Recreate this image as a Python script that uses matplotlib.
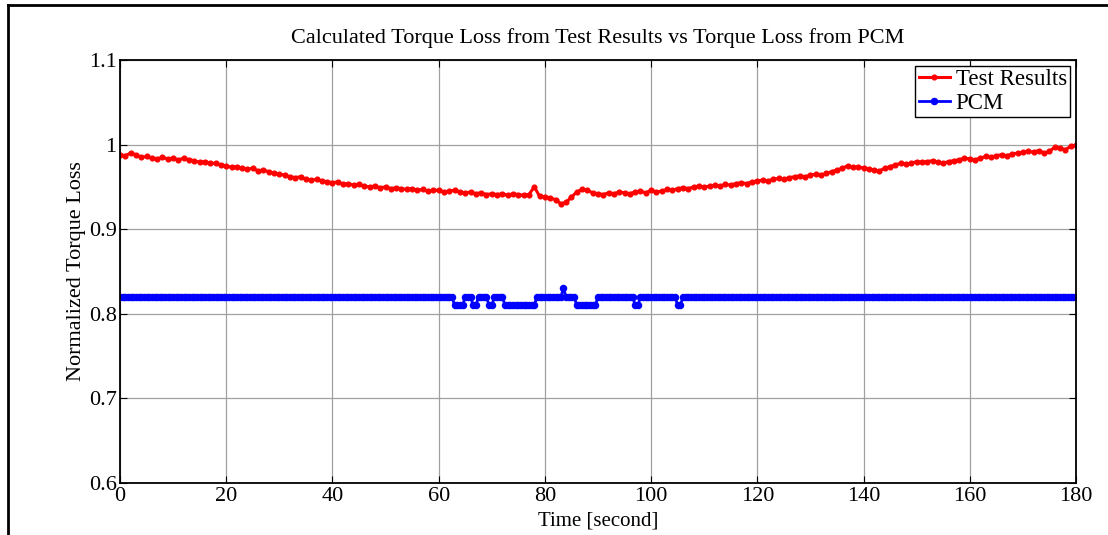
#!/usr/bin/env python3

import numpy as np
import matplotlib
matplotlib.use('Agg')
import matplotlib.pyplot as plt
from matplotlib.lines import Line2D

plt.rcParams['font.family'] = ['Liberation Serif', 'DejaVu Serif']
plt.rcParams['mathtext.fontset'] = 'stix'

# --- data ---
# test results, one value per second (0..180 s)
t_test = np.arange(0, 181, 1)
test_results = [
    0.988, 0.987, 0.990, 0.988, 0.985, 0.986, 0.984, 0.983, 0.985, 0.983,
    0.984, 0.982, 0.984, 0.982, 0.981, 0.979, 0.980, 0.978, 0.978, 0.976,
    0.975, 0.973, 0.974, 0.972, 0.971, 0.972, 0.969, 0.970, 0.968, 0.966,
    0.965, 0.964, 0.962, 0.961, 0.962, 0.959, 0.958, 0.959, 0.957, 0.956,
    0.955, 0.956, 0.953, 0.954, 0.952, 0.953, 0.951, 0.950, 0.951, 0.949,
    0.950, 0.948, 0.949, 0.948, 0.947, 0.948, 0.946, 0.947, 0.945, 0.946,
    0.946, 0.944, 0.945, 0.946, 0.944, 0.943, 0.944, 0.942, 0.943, 0.941,
    0.942, 0.941, 0.942, 0.940, 0.942, 0.941, 0.940, 0.941, 0.950, 0.939,
    0.938, 0.937, 0.935, 0.930, 0.932, 0.938, 0.944, 0.947, 0.946, 0.943,
    0.942, 0.941, 0.943, 0.942, 0.944, 0.943, 0.942, 0.944, 0.945, 0.943,
    0.946, 0.944, 0.945, 0.947, 0.946, 0.948, 0.949, 0.948, 0.950, 0.951,
    0.950, 0.951, 0.952, 0.951, 0.953, 0.952, 0.954, 0.955, 0.954, 0.956,
    0.957, 0.958, 0.957, 0.959, 0.960, 0.959, 0.961, 0.962, 0.963, 0.962,
    0.964, 0.965, 0.964, 0.966, 0.968, 0.970, 0.972, 0.975, 0.973, 0.974,
    0.972, 0.971, 0.970, 0.969, 0.972, 0.974, 0.976, 0.978, 0.977, 0.978,
    0.980, 0.979, 0.980, 0.981, 0.979, 0.978, 0.980, 0.981, 0.982, 0.984,
    0.983, 0.982, 0.984, 0.986, 0.985, 0.987, 0.988, 0.987, 0.989, 0.990,
    0.991, 0.992, 0.991, 0.993, 0.990, 0.992, 0.997, 0.996, 0.994, 0.998,
    0.999,
]

# PCM is a step signal: level holds from each change time to the next one
t_pcm = np.arange(0, 180.5, 0.5)
pcm_change_t = [0, 63, 65, 66.5, 67.5, 69.5, 70.5, 72.5, 78.5, 83.5, 84,
                86, 90, 97, 98, 105, 106]
pcm_level = [0.82, 0.81, 0.82, 0.81, 0.82, 0.81, 0.82, 0.81, 0.82, 0.83, 0.82,
             0.81, 0.82, 0.81, 0.82, 0.81, 0.82]
pcm = np.array(pcm_level)[np.searchsorted(pcm_change_t, t_pcm, side='right') - 1]

xticks = [0, 20, 40, 60, 80, 100, 120, 140, 160, 180]
yticks = [0.6, 0.7, 0.8, 0.9, 1.0, 1.1]
ytick_labels = ['0.6', '0.7', '0.8', '0.9', '1', '1.1']

# --- figure ---
fig = plt.figure(figsize=(11.08, 5.35), dpi=100)
ax = fig.add_axes([120/1108, 1 - 483/535, (1076 - 120)/1108, (483 - 60)/535])

ax.plot(t_test, test_results, color='red', marker='o', markersize=3.4,
        linewidth=2.2, label='Test Results')
ax.plot(t_pcm, pcm, color='blue', marker='o', markersize=4.4,
        linewidth=2, label='PCM')

ax.set_xlim(0, 180)
ax.set_ylim(0.6, 1.1)
ax.set_xticks(xticks)
ax.set_yticks(yticks)
ax.set_yticklabels(ytick_labels)
ax.tick_params(direction='in', length=5, width=0.8, top=True, right=True,
               labelsize=16)
ax.tick_params(axis='x', pad=3)
ax.tick_params(axis='y', pad=2.5)
ax.grid(True, color='#a0a0a0', linewidth=0.9)
ax.set_axisbelow(True)
for s in ax.spines.values():
    s.set_linewidth(1.3)

ax.set_title('Calculated Torque Loss from Test Results vs Torque Loss from PCM',
             fontsize=16, pad=12)
ax.set_xlabel('Time [second]', fontsize=15, labelpad=4)
ax.set_ylabel('Normalized Torque Loss', fontsize=16, labelpad=2)

leg = ax.legend(loc='upper right', fontsize=16.5, fancybox=False, framealpha=1,
                edgecolor='black', borderaxespad=0.25, handlelength=1.35,
                borderpad=0.15, labelspacing=0.1, handletextpad=0.25)
leg.get_frame().set_linewidth(1.0)

# outer frame of the exported figure (top and left edges visible)
fig.add_artist(Line2D([8/1108, 8/1108], [0, 1 - 5/535], transform=fig.transFigure,
                      color='black', linewidth=2))
fig.add_artist(Line2D([8/1108, 1], [1 - 5/535, 1 - 5/535], transform=fig.transFigure,
                      color='black', linewidth=2))

fig.savefig('out.png', dpi=100)
